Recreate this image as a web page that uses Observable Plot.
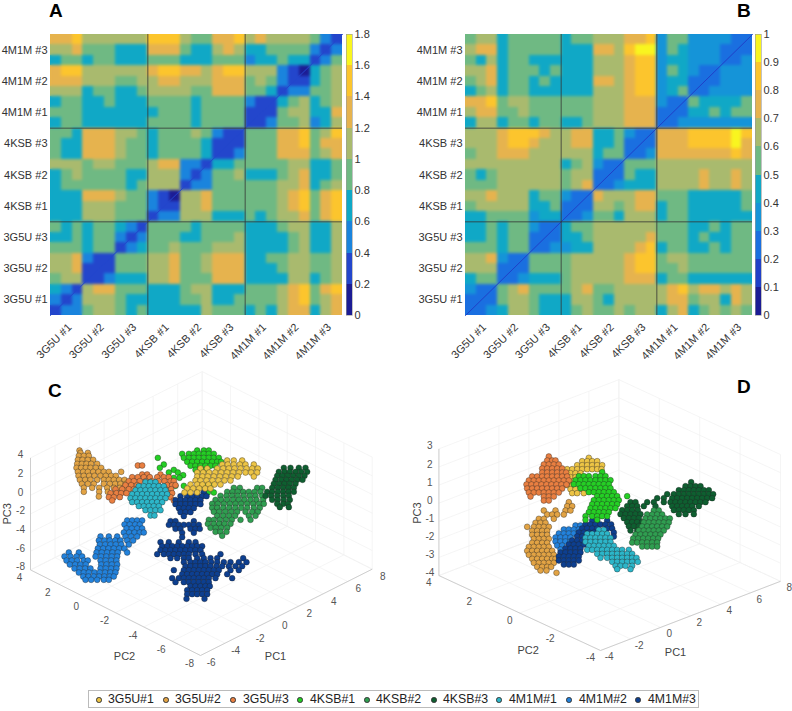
<!DOCTYPE html>
<html><head><meta charset="utf-8">
<script src="https://cdn.jsdelivr.net/npm/d3@7"></script>
<script src="https://cdn.jsdelivr.net/npm/@observablehq/plot@0.6"></script>
<style>
html,body{margin:0;background:#fff}
#fig{position:relative;width:792px;height:711px;overflow:hidden;font-family:"Liberation Sans",Arial,sans-serif}
#fig svg{position:absolute;background:transparent}
.tag{position:absolute;font-weight:bold;font-size:19px;line-height:20px;color:#000}
#legend{position:absolute;left:88px;top:690px;width:611px;height:18px;border:1px solid #bbb;box-sizing:border-box;font-size:12.3px;color:#222}
#legend span{position:absolute;top:1px;white-space:nowrap}
#legend i{position:absolute;top:6px;width:3.5px;height:3.5px;border-radius:50%;border:.5px solid #333}
</style></head><body><div id="fig"></div>
<script>
const runs = ["3G5U #1","3G5U #2","3G5U #3","4KSB #1","4KSB #2","4KSB #3","4M1M #1","4M1M #2","4M1M #3"];
const legendNames = ["3G5U#1","3G5U#2","3G5U#3","4KSB#1","4KSB#2","4KSB#3","4M1M#1","4M1M#2","4M1M#3"];
const clusterColors = ["#ecc445","#e2a344","#e97f41","#24cf24","#2f9e50","#0e5f30","#2cb6c9","#2282dc","#0d3f90"];

// Pairwise values between trajectory thirds; each block: 3 rows bottom to top, left to right.
const colorsA = ["#1c1c94","#2346cc","#1a84dd","#10a8c6","#6fb983","#a9ba6e","#e6b34e","#fcc52d","#f9f51f"];
const thresholdsA = [.2,.4,.6,.8,1,1.2,1.4,1.6];
const ticksA = [0,.2,.4,.6,.8,1,1.2,1.4,1.6,1.8];
const blocksA = [
 [.3,.5,.5,.5,.3,.5,.7,.5,.3],
 [.9,1.1,1.1,1.1,1.1,1.3,1.1,1.1,1.3],[.3,.3,.5,.3,.3,.3,.5,.3,.3],
 [.9,.9,.9,.7,.7,.9,.9,.7,.9],[.7,.9,.9,.7,.9,.9,.7,.9,.9],[.3,.5,.7,.5,.3,.5,.7,.5,.3],
 [.7,.7,.7,.7,.7,.7,.7,.7,.7],[1.1,1.1,1.1,1.1,1.1,1.1,1.3,1.3,1.3],[.9,.9,.9,.9,.9,.9,1.1,.9,.9],[.3,.5,.5,.5,.3,.3,.5,.3,.1],
 [.7,.9,.9,.7,.9,1.1,1.1,1.1,1.1],[.9,.9,.9,.9,.9,.9,.9,1.1,1.1],[.9,.7,.9,.9,.7,.7,.9,.9,.9],[1.1,1.1,1.1,1.1,1.1,1.1,1.1,1.3,1.3],[.3,.5,.5,.5,.3,.5,.5,.5,.3],
 [.9,.7,.7,.9,.7,.7,.9,.9,.7],[1.3,1.3,1.3,1.3,1.3,1.3,1.3,1.3,1.3],[1.1,.9,.9,1.1,.9,.9,1.1,1.1,.9],[.7,.9,.9,.7,.9,.9,.7,.9,.9],[.9,.9,.7,.9,.9,.7,.9,1.1,.9],[.3,.3,.5,.3,.3,.3,.5,.3,.3],
 [.7,.9,.9,.9,.9,.9,.7,.9,.9],[.7,.7,.7,.7,.7,.7,.7,.7,.9],[.7,.7,.7,.7,.7,.7,.7,.7,.7],[.9,.9,.9,.7,.9,.9,.9,.9,.9],[.9,.7,.9,.9,.7,.9,.9,.7,.9],[.9,.9,.9,.9,.9,.9,.9,.9,.9],[.3,.3,.5,.3,.3,.3,.5,.3,.3],
 [1.1,1.1,1.1,1.3,1.3,1.3,1.3,1.5,1.5],[.7,.9,.9,1.1,1.1,1.1,1.1,1.1,1.1],[.7,.7,.9,.9,.9,1.1,1.1,1.1,1.1],[1.1,1.1,1.1,1.1,1.3,1.3,1.3,1.5,1.5],[1.1,.9,.9,1.1,1.1,1.1,1.3,1.3,1.1],[1.3,1.3,1.3,1.3,1.3,1.3,1.3,1.5,1.5],[.9,.9,.7,.9,1.1,.9,1.1,1.1,1.1],[.3,.5,.5,.5,.3,.3,.5,.3,.1],
 [.7,.9,.9,1.1,1.1,1.3,1.3,1.3,1.5],[.7,.9,.9,.9,.9,.9,1.1,1.1,1.1],[.7,.7,.7,.7,.7,.7,1.1,1.1,1.1],[.9,.9,.9,1.3,1.3,1.3,1.5,1.5,1.5],[.7,.7,.7,.9,.7,.7,1.1,.9,.9],[.9,.9,.9,1.1,1.3,1.1,1.3,1.3,1.5],[.5,.7,.7,.7,.7,.9,1.1,1.3,1.1],[.9,.7,.7,.9,.9,.9,1.1,1.1,1.1],[.3,.5,.9,.5,.3,.5,.9,.5,.3]
];
const colorsB = ["#1c1c94","#2040c8","#1a6fe0","#1594d8","#10a8c6","#6fb983","#a9ba6e","#e6b34e","#fcc52d","#f9f51f"];
const thresholdsB = [.1,.2,.3,.4,.5,.6,.7,.8,.9];
const ticksB = [0,.1,.2,.3,.4,.5,.6,.7,.8,.9,1];
const blocksB = [
 [.25,.25,.35,.25,.25,.25,.35,.25,.25],
 [.45,.55,.55,.65,.65,.65,.65,.65,.75],[.25,.25,.35,.25,.25,.25,.35,.25,.25],
 [.55,.55,.55,.45,.45,.55,.45,.45,.55],[.45,.55,.55,.45,.55,.55,.45,.55,.55],[.25,.25,.35,.25,.25,.25,.35,.25,.25],
 [.45,.45,.55,.55,.65,.65,.65,.65,.75],[.55,.55,.55,.65,.65,.65,.65,.65,.65],[.35,.45,.45,.45,.45,.55,.45,.55,.55],[.25,.25,.35,.25,.25,.25,.35,.25,.25],
 [.55,.55,.55,.55,.45,.55,.65,.65,.65],[.65,.65,.65,.65,.65,.65,.65,.65,.65],[.65,.65,.65,.65,.65,.65,.65,.65,.65],[.55,.65,.75,.55,.65,.65,.45,.55,.65],[.25,.25,.35,.25,.25,.25,.35,.25,.25],
 [.55,.65,.65,.65,.65,.65,.65,.65,.65],[.75,.75,.75,.75,.85,.85,.75,.85,.85],[.65,.65,.65,.75,.65,.65,.85,.75,.65],[.65,.65,.65,.65,.75,.75,.65,.75,.75],[.45,.55,.55,.45,.45,.55,.45,.45,.55],[.25,.25,.35,.25,.25,.25,.35,.25,.25],
 [.45,.65,.65,.65,.75,.75,.75,.75,.85],[.45,.55,.55,.55,.55,.65,.55,.65,.65],[.45,.55,.55,.55,.55,.55,.55,.55,.55],[.45,.45,.55,.55,.55,.55,.55,.55,.55],[.65,.65,.65,.65,.65,.65,.65,.65,.65],[.75,.75,.75,.75,.75,.75,.75,.75,.75],[.25,.25,.35,.25,.25,.25,.35,.25,.25],
 [.45,.55,.65,.55,.65,.75,.65,.65,.75],[.45,.55,.55,.45,.55,.55,.45,.55,.55],[.45,.45,.45,.45,.55,.45,.55,.45,.55],[.45,.45,.45,.45,.45,.45,.45,.45,.45],[.65,.65,.65,.75,.75,.65,.65,.65,.65],[.75,.85,.85,.75,.85,.85,.75,.85,.85],[.35,.45,.55,.35,.45,.45,.35,.55,.45],[.25,.25,.35,.25,.25,.25,.35,.25,.25],
 [.55,.45,.65,.65,.75,.75,.55,.65,.65],[.45,.55,.55,.45,.55,.55,.45,.55,.55],[.45,.45,.45,.55,.55,.55,.55,.55,.55],[.45,.45,.45,.45,.45,.45,.45,.55,.55],[.65,.65,.65,.75,.75,.65,.65,.65,.65],[.75,.85,.85,.85,.95,.95,.75,.75,.85],[.35,.45,.45,.35,.55,.45,.35,.55,.55],[.35,.35,.35,.35,.35,.35,.35,.35,.35],[.25,.25,.35,.25,.25,.25,.35,.25,.25]
];

// Scatter readings: each row is [vertical view position, horizontal view positions...]
const sceneC = {
 "3G5U#1":[[270,680,700,725],[282,665,682,700,718,735,760],[294,600,620,650,668,685,702,720,738,755,772],[306,590,608,626,644,662,680,698,716,735,752,770],[318,590,606,622,640,658,676,694,712,760],[330,585,600,618,636,654,672,690],[342,570,590,606,624,642,660],[354,560,578,596,614,630],[366,552,570,590]],
 "3G5U#2":[[240,237],[247,240,262],[256,235,250,265],[268,232,246,262,278],[280,230,244,258,272,290],[292,228,242,256,270,286,302],[304,232,248,262,278,294,310,325,362],[316,234,250,266,282,300,316,332,346],[328,238,254,270,290,310,325,340,356,372],[340,244,262,280,310,328,344,360,376,392],[352,250,275,296,320,340,358,375],[364,250,296,322,345,365],[378,295]],
 "3G5U#3":[[285,412,425],[312,425,440,480],[320,395,412,430,448,470,490,505],[332,385,400,418,436,455,475,492,510,520],[344,375,392,410,500,515,525],[356,345,365,385,400,495,512],[368,330,348,362,378,505,515],[380,325,340,358,510],[390,335,520]],
 "4KSB#1":[[240,590,610,625],[250,545,565,580,595,610,625,640],[262,472,550,565,580,595,610,625,640,655],[274,560,575,590,605,620,635,650,662],[282,490],[286,570,585,600,615,630,645],[292,478],[298,520,585,600,615],[306,505,532],[314,548],[322,520,537],[346,525,550,610,630],[366,622,640]],
 "4KSB#2":[[352,700,718,770,785],[364,680,696,712,728,745,762,780],[376,660,678,695,712,730,748,765,785],[388,645,662,680,698,715,732,750,768,788],[400,635,652,670,688,705,722,740,758,776,790],[412,635,650,668,686,704,722,740,760,778],[424,640,656,674,692,710,735,755,772],[436,650,668,686,704,745,765],[448,625,640,658,676,694,720,750],[460,622,640,656,672,690],[472,630,646,662,680],[484,645,660,678],[496,665]],
 "4KSB#3":[[292,850,870,895,915],[304,835,852,868,885,902,920],[316,830,846,862,878,895,912],[328,825,842,858,874,890,906],[340,820,836,852,868,885],[352,815,832,848,864,880],[364,800,815,832,848,864,880],[376,795,812,830,848,865],[388,815,832,850,868],[400,830,848,862],[410,838,865]],
 "4M1M#1":[[335,435,450,465],[347,415,430,445,460,475,490],[359,405,420,435,450,465,480,495],[371,395,410,425,440,455,470,485,500],[383,390,405,420,435,450,465,480,495],[395,395,410,425,440,455,470,485],[407,415,430,445,460,475],[419,435,450,465,480],[435,450,462]],
 "4M1M#2":[[450,380,395,410,425],[462,372,388,404,418],[474,378,394,410,425],[486,370,386,402,418,430],[498,300,325,350,375,392,410],[510,295,312,328,344,360,380,398],[522,298,314,330,346,362,385],[534,292,308,324,340,356,372],[546,205,235,288,304,320,336,352,380],[558,192,210,228,245,285,302,318,334,350],[570,198,214,230,250,262,300,316,332,348],[582,208,224,240,256,302,318,334,350],[594,222,238,254,270,300,316,332,348],[606,235,250,265,282,298,314,330,345],[618,248,264,280,296,312,328,340],[628,255,272,290,310,325]],
 "4M1M#3":[[365,590,610],[377,540,560,575,590,605,618],[389,525,540,555,570,585,600],[401,525,540,555,570,585,600],[413,535,550,565,580],[425,540,555,570],[437,550],[452,510,525,580],[463,505,520,535,550,565,580,595],[475,525,540,570,585,598],[487,545,580],[500,545],[515,480,505,535,565,585],[527,485,500,515,530,545,560,575,590,605],[539,480,495,510,525,540,555,570,585,600],[551,470,490,505,520,535,550,565,585,605,660],[563,510,530,550,565,590,610,630,650,728],[575,550,570,585,600,615,632,650,670,690,715,738],[587,555,570,585,600,615,630,648,665,685,705,725],[599,520,550,565,580,595,610,625,640,655,690,715],[611,545,560,575,590,605,620,635,650,680],[623,515,535,550,565,580,595,610,625,645,695],[635,525,550,565,580,595,610,625],[647,570,585,600,615,628],[659,560,575,590,605,620],[671,560,575,590,605,620],[685,558,612]]
};
const sceneD = {
 "3G5U#1":[[262,565],[272,545,560,575,590],[284,530,545,560,575,590,605],[296,500,515,530,545,560,575,590,603],[308,510,525,540],[320,510,525],[332,505,518],[344,500,515],[356,510,525,545],[368,515,530,550]],
 "3G5U#2":[[395,505],[407,500,515],[420,430,465,495,510],[432,440,455,470,490],[445,415,430,460],[457,405,420,435],[469,380,400,415,430,445],[481,395,410,425,440],[493,395,410,425,440],[505,400,415,430,445],[517,395,410,425,440],[529,385,400,415,430,445],[541,380,395,410,425,440,455],[553,385,400,415,430,445,460],[565,395,410,425,440,455,465],[577,400,415,430,445,460],[589,410,425,440,452],[600,420,438],[607,468]],
 "3G5U#3":[[258,445],[270,440,455,465],[282,430,445,460,475],[294,425,440,455,470,485],[306,425,440,455,470,485,497],[318,395,410,425,440,455,470,485,500],[330,385,400,415,430,445,460,475,490,505],[342,378,393,408,423,438,453,468,483,498],[354,380,395,410,425,440,455,470,485],[366,385,400,415,430,445,460,475],[378,390,430,445,460],[390,430,445]],
 "4KSB#1":[[305,605],[317,535,550,565,585,600,615],[329,525,540,555,570,585,600,615,630],[341,520,535,550,565,580,595,610,625],[353,540,555,570,585,600,615,630],[365,565,580,595,610,625,640],[377,590,605,620,635,650,680],[389,580,595,610,625,640,655],[401,575,590,605,620,635,650],[413,570,585,600,615,630,645],[425,565,580,595,610,625],[437,555,575,590,605,620],[448,555,590]],
 "4KSB#2":[[420,760,775],[432,740,755,770,785],[444,735,750,765,780,795,808],[456,730,745,760,775,790,805],[468,725,740,755,770,785,800],[480,715,730,745,760,775,790],[492,705,720,735,750,765,780],[504,698,713,728,743,758,773],[516,695,710,725,740,755,770],[528,725,740,755,770]],
 "4KSB#3":[[335,872],[347,855,870,885,900],[359,835,850,865,880,895,910,925],[371,800,820,835,850,865,880,895,910,925,938],[383,770,790,815,830,845,860,875,890,905,920,935],[395,690,705,740,760,790,810,825,840,855,870,885,900,915],[407,680,695,710,730,765,815,830,845,860,875,895],[419,665,680,695,712,820,835,850,865,880],[431,660,675,690,705,720,835,855,880],[443,670,685,700,715],[455,680,695,710,725],[467,685,700,715],[480,690,710]],
 "4M1M#1":[[478,595,610],[490,560,575,590,605,620],[502,555,570,585,600,615,630],[514,555,570,585,600,615,630],[526,565,580,595,610,625,640],[538,560,575,590,605,620,635,650,665,685],[550,590,605,620,635,650,665,680,695],[562,600,620,635,650,665,680,695,708],[574,635,650,665,680,695,712],[586,645,660,675,695],[596,650,690]],
 "4M1M#2":[[465,525,540],[477,490,505,520,535],[489,475,490,505,520],[501,465,480,495,510],[513,465,480,495,510],[525,470,485],[537,480]],
 "4M1M#3":[[450,575,590,620],[462,555,570,585,600,615,632],[474,545,560,575,590,620,635],[486,535,550,565,580,640],[498,530,545,560,575,640],[510,515,530,545],[522,505,520,535,550],[534,495,510,525,540],[546,480,495,510,525,540],[558,475,490,505,520,535],[570,475,490,505,520,535],[582,490,505,520]]
};
const orderC = ["4KSB#1","3G5U#2","3G5U#3","4M1M#1","4M1M#2","4M1M#3","3G5U#1","4KSB#2","4KSB#3"];
const orderD = ["3G5U#2","4M1M#2","4M1M#3","4M1M#1","3G5U#1","3G5U#3","4KSB#3","4KSB#1","4KSB#2"];

const axesC = {pc1:[-6,-4,-2,0,2,4,6,8], pc2:[-8,-6,-4,-2,0,2,4], pc3:[-8,-6,-4,-2,0,2,4],
  origin:[600,855], u1:[36.8,-18.5], u2:[-42.5,-21.4], u3:-28, off1:[32,23], off2:[-33,25], off3:[-30,-8],
  title1:[825,858], title2:[372,858], title3:[22,430]};
const axesD = {pc1:[-4,-2,0,2,4,6,8], pc2:[-4,-2,0,2,4], pc3:[-4,-3,-2,-1,0,1,2,3],
  origin:[600,840], u1:[45,-17.3], u2:[-60.6,-28.1], u3:-54.3, off1:[26,20], off2:[-30,22], off3:[-27,-8],
  title1:[825,845], title2:[383,840], title3:[52,428]};

const fig = document.getElementById("fig");
const place = (node,left,top)=>{node.style.left=left+"px";node.style.top=top+"px";fig.appendChild(node);};

function heat(blocks,colors,thresholds,ticks,left,plotW,cbLeft,id){
  const cells=[];let k=0;
  for(let r=0;r<9;r++)for(let c=0;c<=r;c++){
    const b=blocks[k++];
    for(let i=0;i<3;i++)for(let j=0;j<3;j++){
      const x=c*3+j,y=r*3+i,v=b[i*3+j];
      cells.push({x,y,v});
      if(r!==c)cells.push({x:y,y:x,v});
    }
  }
  const centres=runs.map((d,i)=>i*3+1.5);
  const cellMark=()=>Plot.rect(cells,{x1:"x",x2:d=>d.x+1,y1:"y",y2:d=>d.y+1,fill:"v",shapeRendering:"crispEdges"});
  const p=Plot.plot({
    width:left+plotW+4,height:370,marginLeft:left,marginRight:4,marginTop:34,marginBottom:55,
    style:{fontFamily:"Liberation Sans",fontSize:"11px",color:"#333"},
    x:{domain:[0,27],axis:null},y:{domain:[0,27],axis:null},
    color:{type:"threshold",domain:thresholds,range:colors},
    marks:[
      cellMark(),cellMark(),
      Plot.line([0,27],{x:d=>d,y:d=>d,stroke:colors[1],strokeWidth:1}),
      Plot.ruleX([9,18],{stroke:"#333",strokeWidth:.8}),
      Plot.ruleY([9,18],{stroke:"#333",strokeWidth:.8}),
      Plot.axisX(centres,{anchor:"bottom",tickSize:0,tickRotate:-45,tickPadding:4,dx:3,dy:6,tickFormat:(d,i)=>runs[i],label:null}),
      Plot.axisY(centres,{anchor:"left",tickSize:0,tickPadding:3,tickFormat:(d,i)=>runs[i],label:null})
    ]});
  // soften the upper copy of the cells, clipped to the matrix area
  const soft=p.querySelectorAll('g[aria-label="rect"]')[1];
  const ns="http://www.w3.org/2000/svg";
  const clip=document.createElementNS(ns,"clipPath");clip.id=id;
  const cr=document.createElementNS(ns,"rect");
  cr.setAttribute("x",left);cr.setAttribute("y",34);cr.setAttribute("width",plotW);cr.setAttribute("height",281);
  clip.appendChild(cr);p.appendChild(clip);
  const wrap=document.createElementNS(ns,"g");wrap.setAttribute("clip-path",`url(#${id})`);
  soft.parentNode.insertBefore(wrap,soft);wrap.appendChild(soft);
  soft.style.filter="blur(1.6px)";
  place(p,0,0);
  const bands=[0,...thresholds,ticks[ticks.length-1]];
  const cb=Plot.plot({
    width:34,height:370,marginLeft:1,marginRight:27,marginTop:34,marginBottom:55,
    style:{fontFamily:"Liberation Sans",fontSize:"11px",color:"#333"},
    x:{domain:[0,1],axis:null},y:{domain:[bands[0],bands[bands.length-1]],axis:null},
    color:{type:"threshold",domain:thresholds,range:colors},
    marks:[
      Plot.rect(d3.pairs(bands),{x1:0,x2:1,y1:d=>d[0],y2:d=>d[1],fill:d=>(d[0]+d[1])/2,shapeRendering:"crispEdges"}),
      Plot.frame({stroke:"#999",strokeWidth:.6}),
      Plot.axisY(ticks,{anchor:"right",tickSize:0,tickPadding:2,tickFormat:d=>String(d),label:null})
    ]});
  place(cb,cbLeft,0);
}

function scene(data,order,ax,left,top,w,h){
  const q=(a,b,c)=>[ax.origin[0]+ax.u1[0]*(a-ax.pc1[0])+ax.u2[0]*(b-ax.pc2[0]),
                    ax.origin[1]+ax.u1[1]*(a-ax.pc1[0])+ax.u2[1]*(b-ax.pc2[0])+ax.u3*(c-ax.pc3[0])];
  const a0=ax.pc1[0],a1=ax.pc1.at(-1),b0=ax.pc2[0],b1=ax.pc2.at(-1),c0=ax.pc3[0],c1=ax.pc3.at(-1);
  const seg=(P,Q)=>({x1:P[0],y1:P[1],x2:Q[0],y2:Q[1]});
  const grid=[];
  ax.pc1.forEach(a=>{grid.push(seg(q(a,b0,c0),q(a,b1,c0)),seg(q(a,b1,c0),q(a,b1,c1)));});
  ax.pc2.forEach(b=>{grid.push(seg(q(a0,b,c0),q(a1,b,c0)),seg(q(a1,b,c0),q(a1,b,c1)));});
  ax.pc3.forEach(c=>{grid.push(seg(q(a0,b1,c),q(a1,b1,c)),seg(q(a1,b1,c),q(a1,b0,c)));});
  const edges=[seg(q(a0,b0,c0),q(a1,b0,c0)),seg(q(a0,b0,c0),q(a0,b1,c0)),seg(q(a0,b1,c0),q(a0,b1,c1))];
  const labels=[
    ...ax.pc1.map(a=>{const P=q(a,b0,c0);return{h:P[0]+ax.off1[0],v:P[1]+ax.off1[1],t:String(a)};}),
    ...ax.pc2.map(b=>{const P=q(a0,b,c0);return{h:P[0]+ax.off2[0],v:P[1]+ax.off2[1],t:String(b)};}),
    ...ax.pc3.map(c=>{const P=q(a0,b1,c);return{h:P[0]+ax.off3[0],v:P[1]+ax.off3[1],t:String(c)};})
  ];
  const marks=[
    Plot.link(grid,{x1:"x1",y1:"y1",x2:"x2",y2:"y2",stroke:"#f1f1f1",strokeWidth:.7}),
    Plot.link(edges,{x1:"x1",y1:"y1",x2:"x2",y2:"y2",stroke:"#c4c4c4",strokeWidth:.8}),
    Plot.text(labels,{x:"h",y:"v",text:"t",fill:"#555",fontSize:10}),
    Plot.text(["PC1"],{x:ax.title1[0],y:ax.title1[1],fill:"#444",fontSize:11}),
    Plot.text(["PC2"],{x:ax.title2[0],y:ax.title2[1],fill:"#444",fontSize:11}),
    Plot.text(["PC3"],{x:ax.title3[0],y:ax.title3[1],fill:"#444",fontSize:11,rotate:-90})
  ];
  order.forEach(name=>{
    const pts=data[name].flatMap(([v,...hs])=>hs.map(h=>({h,v})));
    marks.push(Plot.dot(pts,{x:"h",y:"v",r:2.9,fill:clusterColors[legendNames.indexOf(name)],stroke:"#222",strokeWidth:.5,strokeOpacity:.75}));
  });
  const p=Plot.plot({width:w,height:h,margin:0,style:{fontFamily:"Liberation Sans"},
    x:{domain:[0,w*3],axis:null},y:{domain:[h*3,0],axis:null},marks});
  p.querySelectorAll('g[aria-label="dot"]').forEach(g=>{g.style.filter="blur(.35px)";});
  place(p,left,top);
}

heat(blocksA,colorsA,thresholdsA,ticksA,50,292,345,"clipA");
heat(blocksB,colorsB,thresholdsB,ticksB,465,287,754,"clipB");
scene(sceneC,orderC,axesC,0,370,400,300);
scene(sceneD,orderD,axesD,400,370,392,300);

[["A",49,1],["B",737,1],["C",48,381],["D",737,377]].forEach(([t,l,tp])=>{
  const d=document.createElement("div");d.className="tag";d.textContent=t;d.style.left=l+"px";d.style.top=tp+"px";fig.appendChild(d);
});
const leg=document.createElement("div");leg.id="legend";
const markerX=[7,74,141,208,275,342,407,477,546],textX=[19,86,154,221,287,354,420,490,559];
legendNames.forEach((n,i)=>{
  const m=document.createElement("i");m.style.left=markerX[i]+"px";m.style.background=clusterColors[i];leg.appendChild(m);
  const s=document.createElement("span");s.textContent=n;s.style.left=textX[i]+"px";leg.appendChild(s);
});
fig.appendChild(leg);
</script></body></html>
